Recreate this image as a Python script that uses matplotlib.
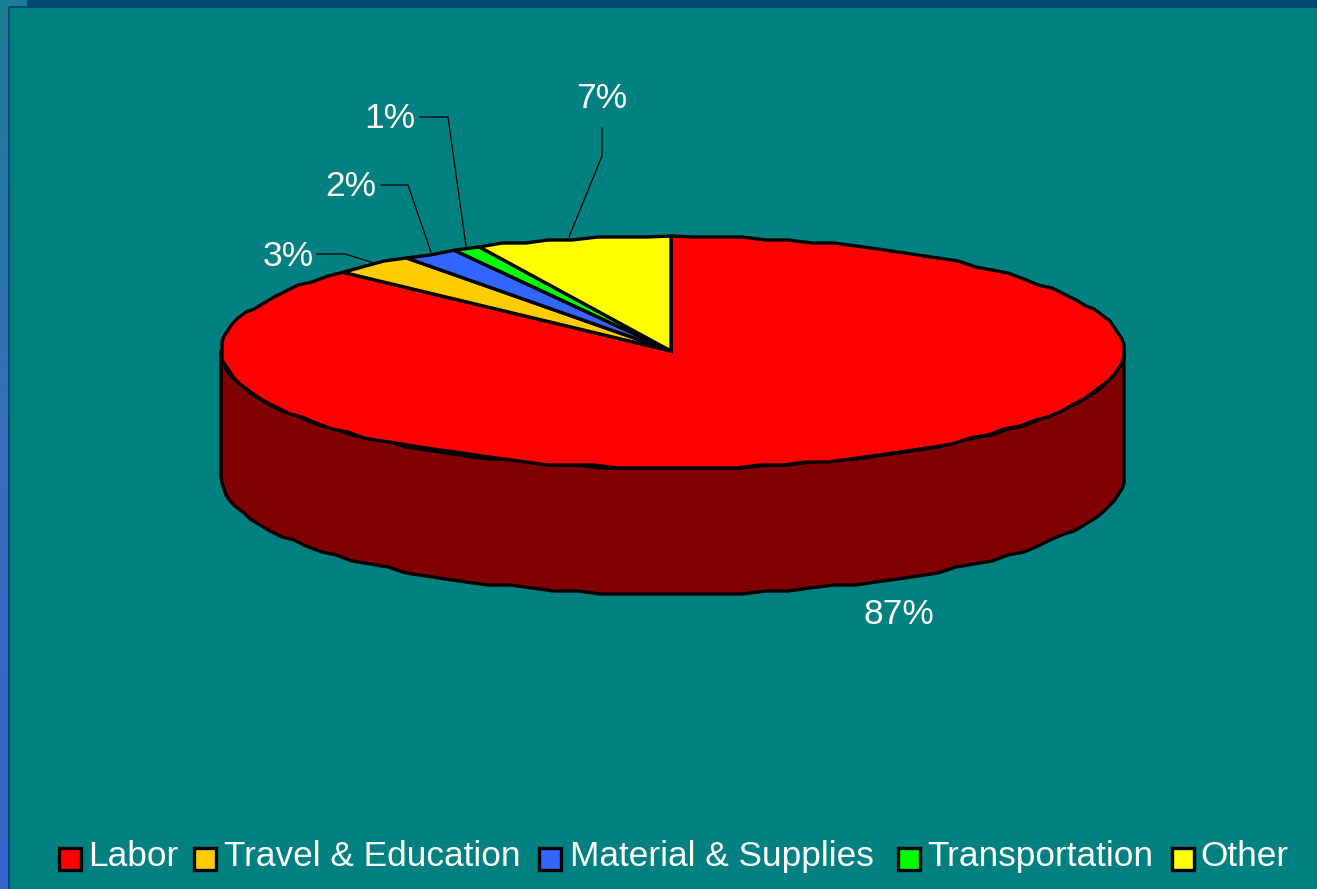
import numpy as np
import matplotlib
matplotlib.use('Agg')
import matplotlib.pyplot as plt
from matplotlib.patches import Rectangle

labels = ['Labor', 'Travel & Education', 'Material & Supplies', 'Transportation', 'Other']
values = [87, 3, 2, 1, 7]
colors = ['#ff0000', '#ffcc00', '#3366ff', '#00ff00', '#ffff00']
pct_text = ['87%', '3%', '2%', '1%', '7%']

teal = '#008080'
cx, cy = 671, 351
rx_left, rx_right = 450, 453
ry_top, ry_bottom = 115, 117
depth = 126


# the slices in the original have a stepped edge, so snap the rim to a grid
def rim(a0, a1, yoff=0):
	n = max(int(abs(a1 - a0) / 3.0), 1) + 1
	t = np.radians(np.linspace(a0, a1, n))
	s, c = np.sin(t), np.cos(t)
	x = cx + np.where(s > 0, rx_right, rx_left) * s
	y = cy - np.where(c > 0, ry_top, ry_bottom) * c
	x[1:-1] = np.round(x[1:-1] / 2.0) * 2.0
	y[1:-1] = np.round(y[1:-1] / 3.0) * 3.0
	return x, y + yoff


plt.rcParams['font.family'] = ['Liberation Sans', 'DejaVu Sans']
fig = plt.figure(figsize=(13.17, 8.89), dpi=100)
ax = fig.add_axes([0, 0, 1, 1])
ax.axis('off')

# slide background
grad = np.linspace(0, 1, 256).reshape(-1, 1)
strip = matplotlib.colors.LinearSegmentedColormap.from_list(
	'strip', [(0, '#1a7f96'), (0.5, '#3670bf'), (1, '#3366cc')])
ax.imshow(grad, extent=(0, 8, 889, 0), cmap=strip, aspect='auto', zorder=0)
ax.set_xlim(0, 1317)
ax.set_ylim(889, 0)
ax.fill([0, 1317, 1317, 0], [0, 0, 6, 6], color='#004a70', lw=0, zorder=1)
ax.fill([0, 27, 27, 0], [0, 0, 6, 6], color='#1a7f96', lw=0, zorder=1)
ax.fill([9, 1317, 1317, 9], [7, 7, 889, 889], color=teal, lw=0, zorder=1)
ax.plot([8.5, 8.5, 1317], [889, 6.5, 6.5], color='#004a70', lw=1.5, zorder=1)

# side wall, front half only
sx, sy = rim(90, 270, depth)
tx, ty = rim(270, 90)
ax.fill(np.r_[sx, tx], np.r_[sy, ty], fc='#800000', ec='black', lw=2.4, joinstyle='round', zorder=2)

# top faces, clockwise from 12 o'clock
start = 0.0
total = float(sum(values))
for v, c in zip(values, colors):
	end = start + 360.0 * v / total
	x, y = rim(start, end)
	ax.fill(np.r_[cx, x], np.r_[cy, y], fc=c, ec='black', lw=2.4, joinstyle='miter', zorder=3)
	start = end

# leader lines
leaders = [([317, 345, 374], [254, 254, 263]),
           ([381, 408, 431], [185, 185, 252]),
           ([420, 448, 466], [117, 117, 246]),
           ([602, 602, 569], [128, 156, 237])]
for lx, ly in leaders:
	ax.plot(lx, ly, color='black', lw=0.9, zorder=4)

# percent labels
label_pos = [(899, 614), (288, 256), (351, 187), (390, 118), (602, 99)]
for s, (px, py) in zip(pct_text, label_pos):
	ax.text(px, py, s, color='white', fontsize=25.45, ha='center', va='center', zorder=5)

# legend placed by hand, the original has uneven gaps between entries
swatch_x = [58, 193, 538, 897, 1171]
text_x = [88.5, 224, 569.5, 927, 1200.5]
for sw, tx_, c, s in zip(swatch_x, text_x, colors, labels):
	ax.add_patch(Rectangle((sw + 0.5, 847.5), 22.5, 22.5, fc=c, ec='black', lw=2.4, zorder=5))
	ax.text(tx_, 866, s, color='white', fontsize=25.4, ha='left', va='baseline', zorder=5)

fig.savefig('out.png', dpi=100)
